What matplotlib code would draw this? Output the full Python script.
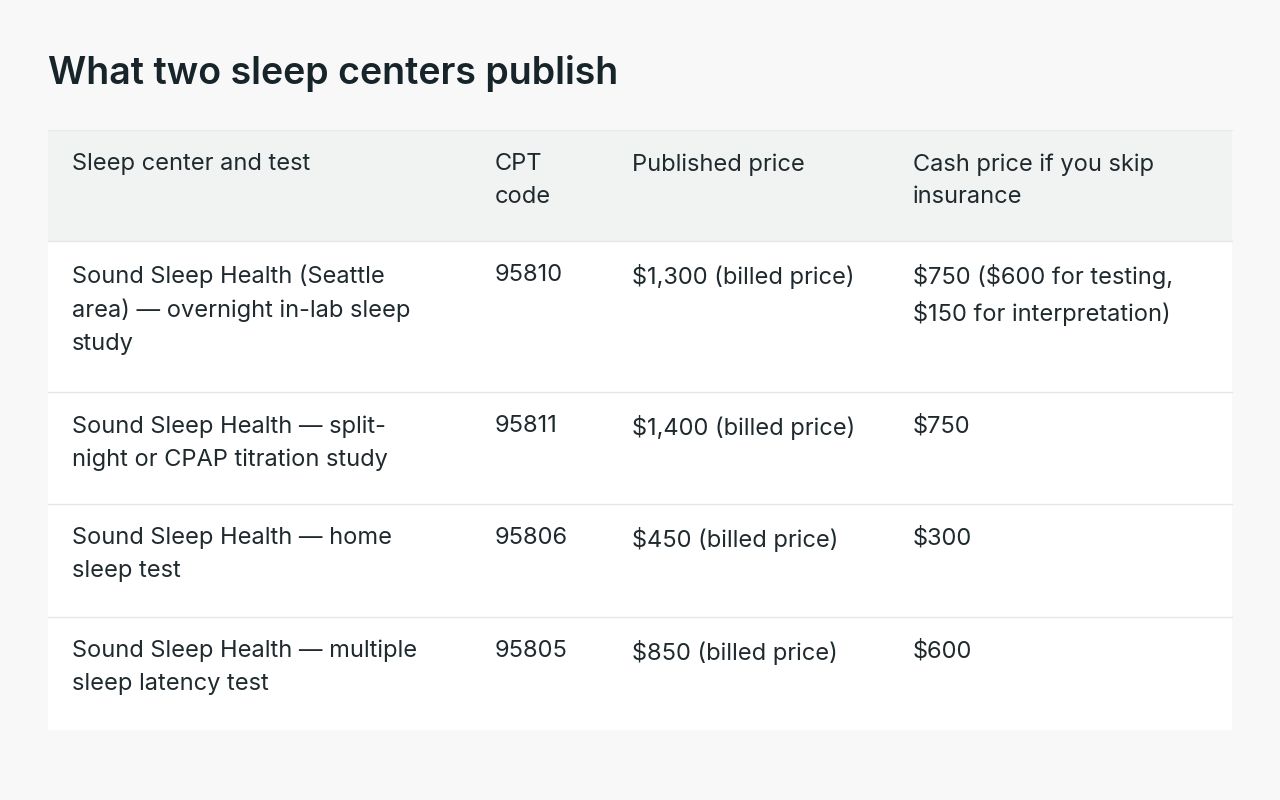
import matplotlib
matplotlib.use("Agg")
import matplotlib.pyplot as plt
from matplotlib.patches import Rectangle

plt.rcParams["text.parse_math"] = False

title = "What two sleep centers publish"
headers = ["Sleep center and test", "CPT\ncode", "Published price", "Cash price if you skip\ninsurance"]
tests = ["Sound Sleep Health (Seattle\narea) — overnight in-lab sleep\nstudy",
         "Sound Sleep Health — split-\nnight or CPAP titration study",
         "Sound Sleep Health — home\nsleep test",
         "Sound Sleep Health — multiple\nsleep latency test"]
codes = ["95810", "95811", "95806", "95805"]
published = ["$1,300 (billed price)", "$1,400 (billed price)", "$450 (billed price)", "$850 (billed price)"]
cash = ["$750 ($600 for testing,\n$150 for interpretation)", "$750", "$300", "$600"]

W, H = 1280, 800
fig = plt.figure(figsize=(12.8, 8), dpi=100)
fig.patch.set_facecolor("#f8f8f8")
ax = fig.add_axes([0, 0, 1, 1])
ax.set_xlim(0, W); ax.set_ylim(H, 0); ax.axis("off")

txt = "#1f2a2e"
fs = 17
ls = 1.62
colx = [72, 495, 632, 913]
x0, x1 = 48, 1232
bounds = [130, 241, 392, 504, 617, 730]

ax.text(48, 73, title, fontsize=27, fontweight="semibold", family="Inter", color="#17252a", va="center")

ax.add_patch(Rectangle((x0, bounds[0]), x1 - x0, bounds[1] - bounds[0], facecolor="#f1f3f3", edgecolor="none"))
ax.add_patch(Rectangle((x0, bounds[1]), x1 - x0, bounds[-1] - bounds[1], facecolor="white", edgecolor="none"))
for y in bounds[1:-1]:
    ax.plot([x0, x1], [y, y], color="#e4e7e7", lw=1)
ax.plot([x0, x1], [bounds[0], bounds[0]], color="#e8eaea", lw=0.8)

def put(row_top, vals):
    for x, v in zip(colx, vals):
        ax.text(x, row_top + 23, v, fontsize=fs, family="Inter", color=txt, va="top", linespacing=ls)

put(bounds[0], headers)
for i in range(len(tests)):
    put(bounds[i + 1], [tests[i], codes[i], published[i], cash[i]])

fig.savefig("out.png", dpi=100, facecolor=fig.get_facecolor())
